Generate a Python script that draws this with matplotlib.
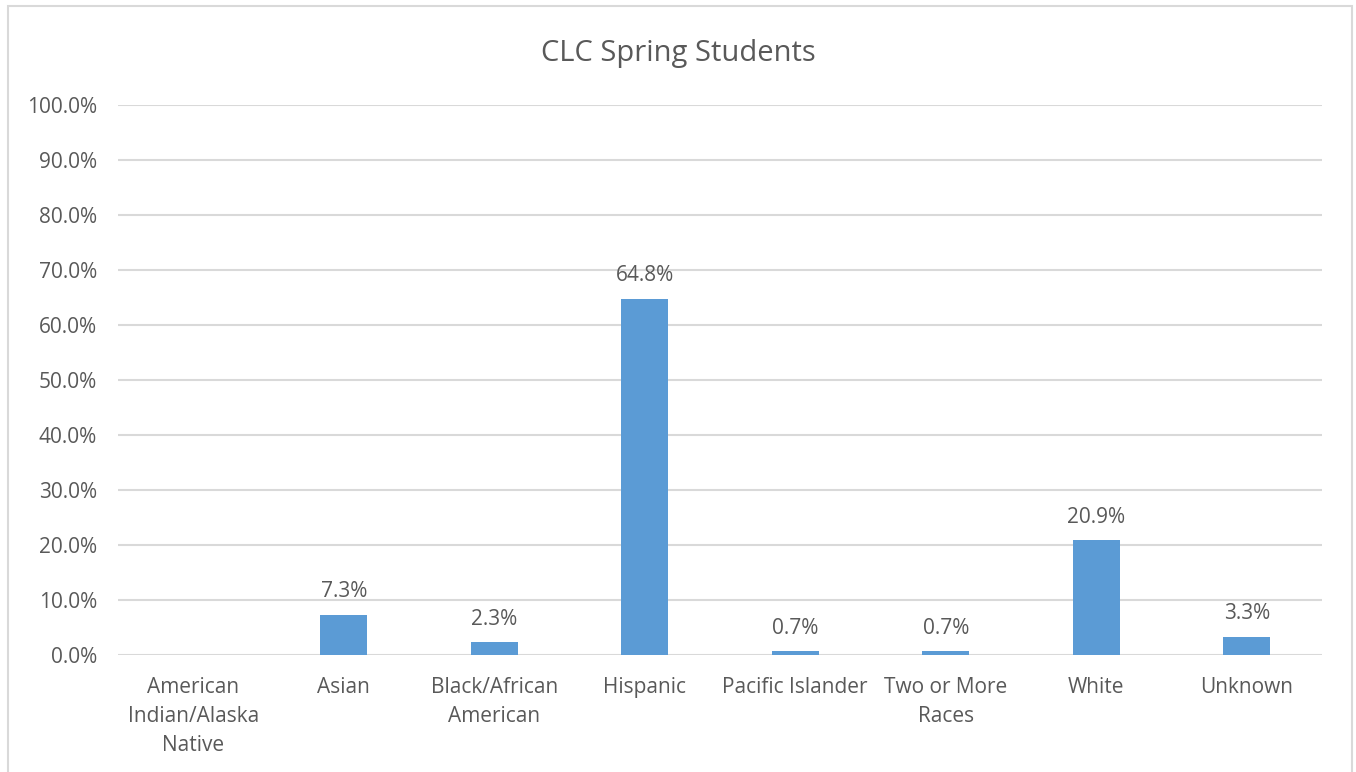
import matplotlib
matplotlib.use("Agg")
import matplotlib.pyplot as plt
from matplotlib.patches import Rectangle
from matplotlib.ticker import FuncFormatter, MultipleLocator

categories = ["American\nIndian/Alaska\nNative", "Asian", "Black/African\nAmerican",
              "Hispanic", "Pacific Islander", "Two or More\nRaces", "White", "Unknown"]
values = [0.0, 7.3, 2.3, 64.8, 0.7, 0.7, 20.9, 3.3]
title = "CLC Spring Students"

plt.rcParams["font.family"] = ["Open Sans", "DejaVu Sans"]
text_color = "#595959"
bar_color = "#5B9BD5"
grid_color = "#D9D9D9"

W, H = 1356, 772
fig = plt.figure(figsize=(W / 100, H / 100), dpi=100)
fig.patch.set_facecolor("white")

# chart frame
fig.patches.append(Rectangle((8 / W, -0.1), (1352 - 8) / W, 1.1 - 6 / H,
                             transform=fig.transFigure, fill=False,
                             edgecolor="#D9D9D9", linewidth=1.5))

left, right, top, bottom = 118, 1322, 105, 655
ax = fig.add_axes([left / W, 1 - bottom / H, (right - left) / W, (bottom - top) / H])

x = range(len(categories))
bars = ax.bar(x, values, width=0.31, color=bar_color, zorder=3)

ax.set_xlim(-0.5, len(categories) - 0.5)
ax.set_ylim(0, 100)
ax.yaxis.set_major_locator(MultipleLocator(10))
ax.yaxis.set_major_formatter(FuncFormatter(lambda v, p: f"{v:.1f}%"))
ax.grid(axis="y", color=grid_color, linewidth=1.5, zorder=0)
ax.set_axisbelow(True)
for s in ax.spines.values():
    s.set_visible(False)
ax.tick_params(axis="y", length=0, pad=15, labelsize=15, labelcolor=text_color)
ax.tick_params(axis="x", length=0, pad=15.5, labelsize=15, labelcolor=text_color)
ax.set_xticks(list(x))
ax.set_xticklabels(categories, linespacing=1.5, va="top")

for xi, v in zip(x, values):
    if v > 0:
        ax.annotate(f"{v:.1f}%", (xi, v), xytext=(0, 9), textcoords="offset points",
                    ha="center", va="bottom", fontsize=15, color=text_color)

fig.text(0.5, 1 - 54 / H, title, ha="center", va="center", fontsize=21, color=text_color)

fig.savefig("out.png", dpi=100, facecolor="white")
